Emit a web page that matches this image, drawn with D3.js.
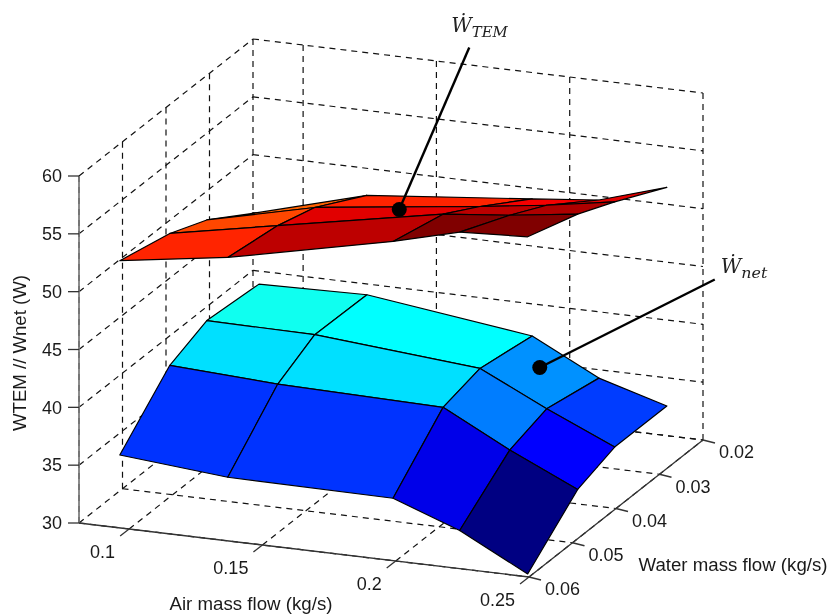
<!DOCTYPE html>
<html>
<head>
<meta charset="utf-8">
<style>
html,body{margin:0;padding:0;background:#fff}
svg{display:block;filter:blur(0.45px)}
text{font-family:"Liberation Sans",Arial,sans-serif;fill:#1a1a1a}
.ann{font-family:"DejaVu Serif","Liberation Serif",serif;font-style:italic;fill:#222}
</style>
<script src="https://cdnjs.cloudflare.com/ajax/libs/d3/7.8.5/d3.min.js"></script>
</head>
<body>
<svg id="chart" width="832" height="616"></svg>
<script>
// ---- data ----
const airFlow   = [0.0965, 0.137, 0.199, 0.224, 0.2495];
const waterFlow = [0.06, 0.0485, 0.04, 0.028];

const wTem = [
  [53.1, 54.5, 57.6, 59.1, 59.4],
  [52.05, 53.85, 56.55, 57.15, 57.95],
  [50.7, 52.9, 54.7, 55.5, 56.5],
  [47.8, 50.4, 51.8, 52.4, 54.2]
];
const wNet = [
  [36.3, 35.5, 35.4, 33.3, 30.25],
  [40.65, 40.15, 39.85, 36.85, 34.15],
  [42.0, 41.9, 40.7, 37.9, 35.3],
  [41.6, 41.8, 39.95, 37.0, 35.3]
];
// colour value of each face, as a position in the jet colour map
const wTemColour = [
  [0.84, 0.94, 1.0, 1.0],
  [0.805, 0.905, 0.94, 0.955],
  [0.78, 0.84, 0.885, 0.905]
];
const wNetColour = [
  [0.175, 0.175, 0.103, 0.0],
  [0.345, 0.345, 0.248, 0.125],
  [0.39, 0.375, 0.267, 0.184]
];

const airTicks   = [0.1, 0.15, 0.2, 0.25];
const waterTicks = [0.06, 0.05, 0.04, 0.03, 0.02];
const powerTicks = [30, 35, 40, 45, 50, 55, 60];
const airLimits   = [0.0812, 0.25];
const waterLimits = [0.06, 0.02];
const powerLimits = [30, 60];

const xTitle = "Air mass flow (kg/s)";
const yTitle = "Water mass flow (kg/s)";
const zTitle = "WTEM // Wnet (W)";

// annotations: anchor on the surface [air, water, power]
const temAnchor = [0.1687, 0.04, 53.6];
const netAnchor = [0.2214, 0.04, 41.4];

// ---- projection built from d3 scales ----
const ox = 79, oy = 523;
const xPx = d3.scaleLinear().domain(airLimits).range([0, 450]);
const xPy = d3.scaleLinear().domain(airLimits).range([0, 54]);
const yPx = d3.scaleLinear().domain(waterLimits).range([0, 174]);
const yPy = d3.scaleLinear().domain(waterLimits).range([0, -137]);
const zPy = d3.scaleLinear().domain(powerLimits).range([0, -347]);
const project = (x, y, z) => [ox + xPx(x) + yPx(y), oy + xPy(x) + yPy(y) + zPy(z)];

const jet = d3.scaleLinear()
  .domain([0, 1/8, 3/8, 5/8, 7/8, 1])
  .range(["#000082", "#0000ff", "#00ffff", "#ffff00", "#ff0000", "#800000"])
  .clamp(true);

const svg = d3.select("#chart");
const line = d3.line();
const [xMin, xMax] = airLimits, [yFront, yBack] = waterLimits, [zMin, zMax] = powerLimits;

// ---- grid ----
const gridSegs = [];
powerTicks.forEach(z => {
  gridSegs.push([project(xMin, yFront, z), project(xMin, yBack, z)]);
  gridSegs.push([project(xMin, yBack, z), project(xMax, yBack, z)]);
});
airTicks.forEach(x => {
  gridSegs.push([project(x, yFront, zMin), project(x, yBack, zMin)]);
  gridSegs.push([project(x, yBack, zMin), project(x, yBack, zMax)]);
});
waterTicks.forEach(y => {
  gridSegs.push([project(xMin, y, zMin), project(xMax, y, zMin)]);
  gridSegs.push([project(xMin, y, zMin), project(xMin, y, zMax)]);
});
svg.append("g").selectAll("path").data(gridSegs).join("path")
  .attr("d", line).attr("fill", "none").attr("stroke", "#111")
  .attr("stroke-width", 1.2).attr("stroke-dasharray", "6 5");

// ---- axes ----
const axes = svg.append("g").attr("fill", "none").attr("stroke", "#333").attr("stroke-width", 1.3);
axes.append("path").attr("d", line([project(xMin, yFront, zMin), project(xMin, yFront, zMax)]))
  .attr("stroke", "#777").attr("stroke-width", 1.7);
axes.append("path").attr("d", line([project(xMin, yFront, zMin), project(xMax, yFront, zMin)]));
axes.append("path").attr("d", line([project(xMax, yFront, zMin), project(xMax, yBack, zMin)]));

const labels = svg.append("g").attr("font-size", 18);
powerTicks.forEach(z => {
  const [a, b] = project(xMin, yFront, z);
  axes.append("path").attr("d", line([[a - 11, b], [a, b]]));
  labels.append("text").attr("x", a - 17).attr("y", b).attr("dy", "0.35em")
    .attr("text-anchor", "end").text(z);
});
airTicks.forEach(x => {
  const [a, b] = project(x, yFront, zMin);
  axes.append("path").attr("d", line([[a - 9, b + 7], [a, b]]));
  labels.append("text").attr("x", a - 14).attr("y", b + 23).attr("dy", "0.35em")
    .attr("text-anchor", "end").text(d3.format("~g")(x));
});
waterTicks.forEach(y => {
  const [a, b] = project(xMax, y, zMin);
  axes.append("path").attr("d", line([[a + 12, b + 3], [a, b]]));
  labels.append("text").attr("x", a + 16).attr("y", b + 12).attr("dy", "0.35em")
    .attr("text-anchor", "start").text(d3.format(".2f")(y));
});

// ---- surfaces ----
function drawSurface(zGrid, levels) {
  const faces = [];
  for (let r = levels.length - 1; r >= 0; r--) {
    for (let c = 0; c < levels[r].length; c++) {
      faces.push({
        pts: [
          project(airFlow[c], waterFlow[r], zGrid[r][c]),
          project(airFlow[c + 1], waterFlow[r], zGrid[r][c + 1]),
          project(airFlow[c + 1], waterFlow[r + 1], zGrid[r + 1][c + 1]),
          project(airFlow[c], waterFlow[r + 1], zGrid[r + 1][c])
        ],
        level: levels[r][c]
      });
    }
  }
  svg.append("g").selectAll("path").data(faces).join("path")
    .attr("d", d => line(d.pts) + "Z")
    .attr("fill", d => jet(d.level))
    .attr("stroke", "#000").attr("stroke-width", 1.2).attr("stroke-linejoin", "round");
}
drawSurface(wNet, wNetColour);
drawSurface(wTem, wTemColour);

// ---- axis titles ----
const titles = svg.append("g").attr("font-size", 17.5);
const fit = sel => sel.attr("lengthAdjust", "spacingAndGlyphs");
fit(titles.append("text").attr("x", 251).attr("y", 604).attr("dy", "0.35em").attr("text-anchor", "middle")
  .attr("textLength", 163).text(xTitle));
fit(titles.append("text").attr("x", 733).attr("y", 565).attr("dy", "0.35em").attr("text-anchor", "middle")
  .attr("textLength", 189).text(yTitle));
fit(titles.append("text").attr("transform", "translate(20,353) rotate(-90)").attr("dy", "0.35em").attr("text-anchor", "middle")
  .attr("textLength", 156).text(zTitle));

// ---- annotations ----
function annotate(anchor, end, labelPos, sub, subWidth) {
  const p = project(...anchor);
  svg.append("path").attr("d", line([[p[0] + end[0], p[1] + end[1]], p]))
    .attr("stroke", "#000").attr("stroke-width", 2.4).attr("fill", "none");
  svg.append("circle").attr("cx", p[0]).attr("cy", p[1]).attr("r", 7.5).attr("fill", "#000");
  const t = svg.append("text").attr("class", "ann")
    .attr("x", p[0] + labelPos[0]).attr("y", p[1] + labelPos[1]).attr("font-size", 20);
  t.append("tspan").text("\u1E86");
  t.append("tspan").attr("dy", 5).attr("font-size", 15.5)
    .attr("textLength", subWidth).attr("lengthAdjust", "spacingAndGlyphs").text(sub);
}
annotate(temAnchor, [70, -162], [52, -178], "TEM", 36);
annotate(netAnchor, [175, -88], [181, -94], "net", 26);
</script>
</body>
</html>
